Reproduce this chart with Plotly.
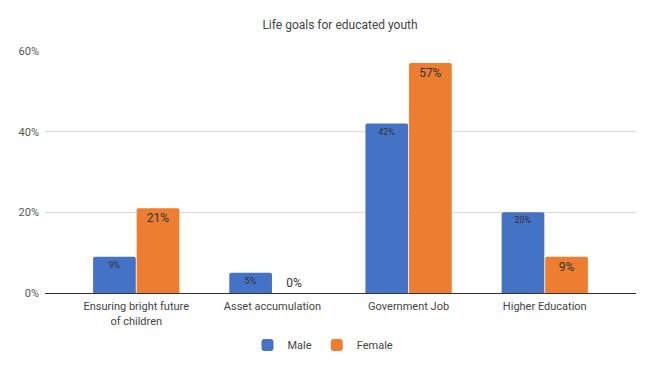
import plotly.graph_objects as go

categories = ["Ensuring bright future<br>of children", "Asset accumulation", "Government Job", "Higher Education"]
male = [9, 5, 42, 20]
female = [21, 0, 57, 9]
y_ticks = [0, 20, 40, 60]
y_ticklabels = ["0%", "20%", "40%", "60%"]

FONT = "Roboto, Arial, sans-serif"
W, H = 647, 362  # page body has an 8px default margin

fig = go.Figure()
fig.add_trace(go.Bar(
    name="Male", x=categories, y=male,
    marker=dict(color="#4472c4", line=dict(width=0)),
    text=[f"{v}%" for v in male],
    textposition="inside", insidetextanchor="end",
    textfont=dict(family=FONT, size=9, color="#333333"),
    constraintext="none",
))
fig.add_trace(go.Bar(
    name="Female", x=categories, y=female,
    marker=dict(color="#ed7d31", line=dict(width=0)),
    text=[f"{v}%" for v in female],
    textposition=["inside" if v > 0 else "outside" for v in female],
    insidetextanchor="end",
    textfont=dict(family=FONT, size=12, color="#333333"),
    outsidetextfont=dict(family=FONT, size=12, color="#333333"),
    constraintext="none",
    cliponaxis=False,
))

fig.update_layout(
    width=W, height=H,
    margin=dict(l=37, r=19, t=43, b=77, autoexpand=False),
    paper_bgcolor="white", plot_bgcolor="white",
    font=dict(family=FONT, color="#444444"),
    title=dict(text="Life goals for educated youth", x=332 / W, xanchor="center",
               yref="container", y=1 - 17 / H, yanchor="middle",
               font=dict(family=FONT, size=12, color="#444444")),
    barmode="group", bargap=0.36, bargroupgap=0.02,
    barcornerradius=2,
    showlegend=True,
    legend=dict(orientation="h", xref="container", yref="container",
                x=315 / W, xanchor="center", y=1 - 337 / H, yanchor="middle",
                font=dict(family=FONT, size=11, color="#444444"),
                itemwidth=30, traceorder="normal"),
)
fig.update_xaxes(
    range=[-0.67, 3.67],
    showgrid=False, showline=True, linecolor="#333333", linewidth=1,
    ticks="", automargin=False, ticklabelstandoff=3,
    tickfont=dict(family=FONT, size=11, color="#444444"),
)
fig.update_yaxes(
    range=[0, 60], tickvals=y_ticks, ticktext=y_ticklabels,
    showgrid=True, gridcolor="#d9d9d9", gridwidth=1,
    zeroline=False, showline=False, ticks="", ticklen=0, automargin=False,
    ticklabelstandoff=5,
    tickfont=dict(family=FONT, size=11, color="#555555"),
)

fig.write_html("out.html")
